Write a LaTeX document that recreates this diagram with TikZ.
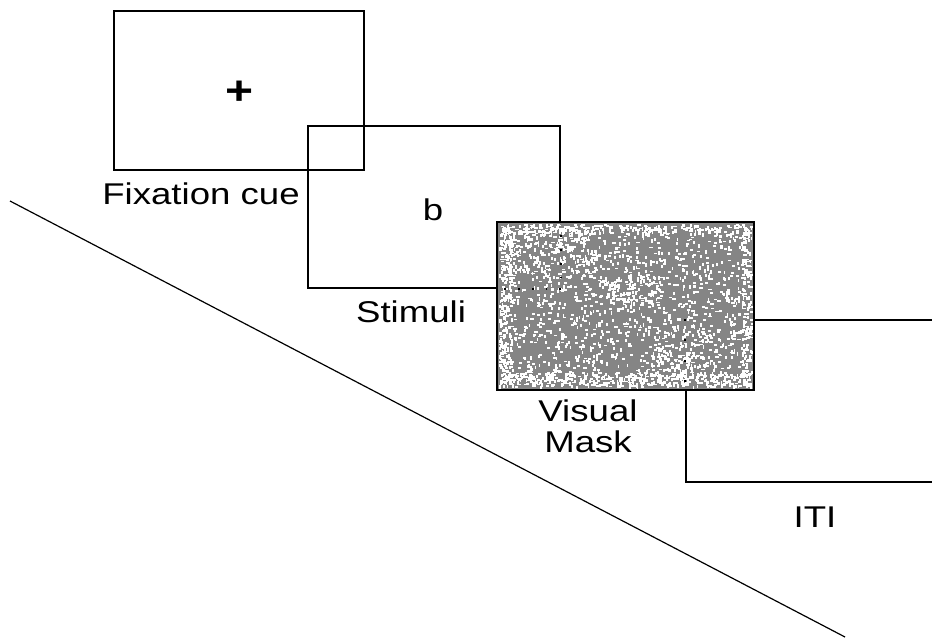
\documentclass[tikz,border=0pt]{standalone}
\usepackage{fontspec}
\setmainfont{Liberation Sans}
\definecolor{maskgray}{HTML}{858585}
\begin{document}
\begin{tikzpicture}[x=0.75pt,y=-0.75pt,
  frame/.style={draw=black, line width=1.5pt, inner sep=0pt},
  lbl/.style={inner sep=0pt, anchor=base, font=\fontsize{22.5}{27}\selectfont},
  speck/.style={fill=white}]
\useasboundingbox (0,0) rectangle (932,640);
\clip (0,0) rectangle (932,640);

% timeline diagonal
\coordinate (d1) at (10,201);
\coordinate (d2) at (845,637);
\draw[line width=0.9pt] (d1) -- (d2);

% trial screens
\node[frame, minimum width=187.5pt, minimum height=119.25pt] (fix) at (239,90.5) {};
\node[frame, minimum width=189pt, minimum height=121.5pt] (stim) at (434,207) {};
\node[frame, minimum width=195pt, minimum height=121.5pt] (iti) at (816,401) {};
\node[fill=maskgray, inner sep=0pt, minimum width=192.75pt, minimum height=126pt] (mask) at (625.5,306) {};

% noise texture of the mask: short white dashes, denser towards the rim
\pgfmathsetseed{11}
\newcommand{\specks}[5]{%
  \foreach \i in {1,...,#1}{
    \pgfmathsetmacro{\px}{#2+#3*rnd}
    \pgfmathsetmacro{\py}{#4+#5*rnd}
    \pgfmathsetmacro{\pw}{rnd<0.5 ? 3.2 : 1.8}
    \pgfmathsetmacro{\ph}{\pw>2 ? 1.8 : 3.2}
    \fill[speck] (\px,\py) rectangle ++(\pw,\ph);
  }}
\specks{1250}{499}{250}{224}{162}
\specks{380}{499}{250}{372}{14}
\specks{220}{499}{12}{224}{162}
\specks{170}{499}{250}{224}{9}
\specks{150}{741}{10}{224}{162}
\specks{200}{505}{90}{226}{50}
\specks{90}{600}{60}{275}{30}
\specks{110}{650}{60}{330}{40}

% outlines showing faintly through the mask
\draw[line width=1.3pt, dash pattern=on 1.3pt off 9pt] (stim.north east |- mask.north) -- (stim.south east);
\draw[line width=1.3pt, dash pattern=on 1.3pt off 9pt] (stim.south east) -- (stim.south east -| mask.west);
\draw[line width=1.3pt, dash pattern=on 1.3pt off 14pt] (iti.north west) -- (iti.north west |- mask.south);
\node[frame, minimum width=192.75pt, minimum height=126pt] (maskframe) at (mask.center) {};

% screen contents
\node[inner sep=0pt, font=\fontsize{30}{36}\selectfont\bfseries] (plus) at (240,93) {\scalebox{1.2}[1]{+}};
\node[lbl] (letter) at (433,220) {\scalebox{1.22}[1]{b}};

% labels
\node[lbl] (lfix) at (201,204) {\scalebox{1.22}[1]{Fixation cue}};
\node[lbl] (lstim) at (411,322) {\scalebox{1.22}[1]{Stimuli}};
\node[lbl] (lvis) at (588,421) {\scalebox{1.22}[1]{Visual}};
\node[lbl] (lmask) at (588,452) {\scalebox{1.22}[1]{Mask}};
\node[lbl] (liti) at (815,527) {\scalebox{1.22}[1]{ITI}};
\end{tikzpicture}
\end{document}
